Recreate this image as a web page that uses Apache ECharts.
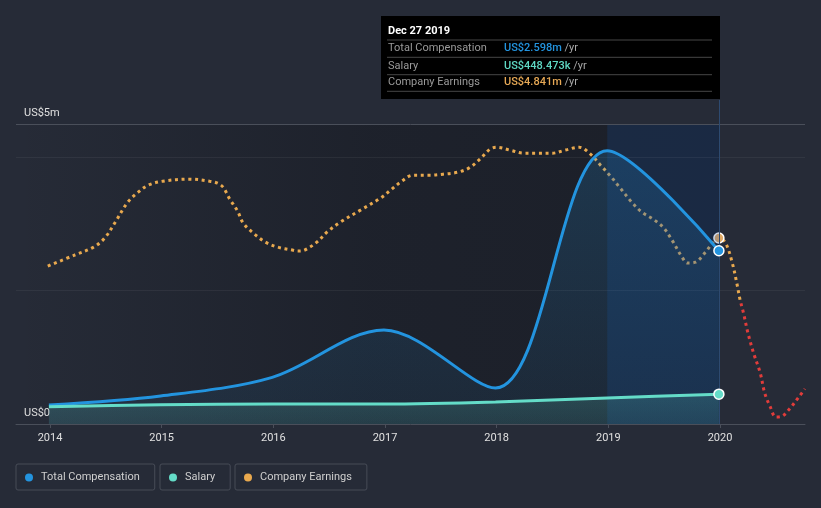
<!DOCTYPE html>
<html>
<head>
<meta charset="utf-8">
<script src="https://cdn.jsdelivr.net/npm/echarts@6/dist/echarts.min.js"></script>
<style>
html,body{margin:0;padding:0;background:#262b37;}
#c{width:821px;height:508px;}
</style>
</head>
<body>
<div id="c"></div>
<script>
// ---------- data ----------
const tickYears = [2014, 2015, 2016, 2017, 2018, 2019, 2020];
const yTickValues = [0, 4.5];
const yTickLabels = ['US$0', 'US$5m'];

const compDates = [2013.99, 2014.99, 2015.99, 2016.99, 2017.99, 2018.99, 2019.99];
const compValues = [0.285, 0.42, 0.70, 1.41, 0.54, 4.10, 2.598];
const salaryValues = [0.26, 0.29, 0.30, 0.30, 0.33, 0.39, 0.448];

const earnDates = [2013.98, 2014.22, 2014.39, 2014.49, 2014.59, 2014.69, 2014.78, 2014.88,
  2015.01, 2015.25, 2015.43, 2015.50, 2015.55, 2015.61, 2015.68, 2015.73, 2015.82, 2015.93,
  2016.04, 2016.17, 2016.22, 2016.28, 2016.39, 2016.48, 2016.60, 2016.78, 2016.96,
  2017.05, 2017.15, 2017.25, 2017.40, 2017.52, 2017.65, 2017.75, 2017.85, 2017.94,
  2018.00, 2018.12, 2018.24, 2018.36, 2018.50, 2018.61, 2018.74, 2018.84, 2018.93,
  2019.02, 2019.10, 2019.21, 2019.30, 2019.40, 2019.49, 2019.57, 2019.66, 2019.71, 2019.78, 2019.87, 2019.94, 2019.99,
  2020.05, 2020.11, 2020.15, 2020.18, 2020.21, 2020.25, 2020.30, 2020.36, 2020.40, 2020.45, 2020.50, 2020.56, 2020.63, 2020.70, 2020.76];
const earnValues = [2.65, 3.51, 4.13, 4.84, 6.16, 7.57, 8.35, 8.97,
  9.28, 9.44, 9.28, 9.13, 8.81, 7.88, 6.94, 6.01, 5.23, 4.52,
  4.13, 3.90, 3.82, 3.90, 4.52, 5.30, 6.08, 7.02, 7.96,
  8.58, 9.28, 9.75, 9.75, 9.83, 9.98, 10.30, 11.00, 11.78,
  11.93, 11.70, 11.47, 11.47, 11.47, 11.70, 11.93, 11.39, 10.53,
  9.67, 8.81, 7.64, 6.86, 6.32, 5.69, 4.68, 3.35, 2.89, 2.96, 3.74, 4.52, 4.841,
  4.45, 2.89, 1.33, 0.00, -1.01, -2.57, -4.13, -5.69, -7.25, -8.35, -9.13, -9.05, -8.42, -7.64, -6.94];

const tipTitle = 'Dec 27 2019';
const tipRows = [
  ['Total Compensation', 'US$2.598m', '#2394df'],
  ['Salary', 'US$448.473k', '#5fd8c4'],
  ['Company Earnings', 'US$4.841m', '#e6a855']
];

// ---------- layout constants ----------
const X_MIN = 2013.6955, X_MAX = 2020.761;
const COMP_MAX = 4.86;
const EARN_MIN = -9.68, EARN_MAX = 15.62;
const HIGHLIGHT_START = 2018.99, HIGHLIGHT_END = 2019.99;
const TOP_LINE = 4.5;

const C_BLUE = '#2394df', C_TEAL = '#64dcc8', C_ORANGE = '#e9a94e', C_RED = '#e23c3a';
const FONT = 'Roboto';

const lastIdx = compDates.length - 1;
function endMarker(x, y, color) {
  const m = { value: [x, y], symbol: 'circle', symbolSize: 10 };
  if (color) m.itemStyle = { color: color, borderColor: '#ffffff', borderWidth: 1.5 };
  return m;
}
const compData = compDates.map((d, i) => i === lastIdx ? endMarker(d, compValues[i]) : [d, compValues[i]]);
const salaryData = compDates.map((d, i) => i === lastIdx ? endMarker(d, salaryValues[i]) : [d, salaryValues[i]]);
const earnData = earnDates.map((d, i) => d === HIGHLIGHT_END ? endMarker(d, earnValues[i], '#e0aa66') : [d, earnValues[i]]);

// tooltip graphic
const tipChildren = [
  { type: 'rect', shape: { x: 0, y: 0, width: 339, height: 83 }, style: { fill: '#000' } },
  { type: 'text', x: 7, y: 15.5, style: { text: tipTitle, fill: '#fff', font: 'bold 11px ' + FONT, verticalAlign: 'middle' } }
];
[24, 41.3, 58.7, 75.3].forEach(y => tipChildren.push({
  type: 'line', shape: { x1: 6, y1: y, x2: 331, y2: y }, style: { stroke: '#464646', lineWidth: 1 }
}));
tipRows.forEach((r, i) => {
  const y = [32.5, 50, 66.5][i];
  tipChildren.push({ type: 'text', x: 7, y: y, style: { text: r[0], fill: '#9a9a9a', font: '11px ' + FONT, verticalAlign: 'middle' } });
  tipChildren.push({ type: 'text', x: 123, y: y, style: {
    text: '{v|' + r[1] + '} {u|/yr}', verticalAlign: 'middle', font: '11px ' + FONT,
    rich: { v: { fill: r[2], fontSize: 11, fontWeight: 500, fontFamily: FONT }, u: { fill: '#a8a8a8', fontSize: 11, fontFamily: FONT } }
  } });
});

function legendBox(name, left, color) {
  return {
    data: [{ name: name, itemStyle: { color: color, borderWidth: 0 } }],
    left: left, top: 464, orient: 'horizontal',
    icon: 'circle', itemWidth: 14, itemHeight: 8,
    padding: [8, 15, 7, 9],
    borderColor: '#474c57', borderWidth: 1, borderRadius: 2,
    selectedMode: false,
    textStyle: { color: '#cfcfcf', fontSize: 11, fontFamily: FONT }
  };
}

const chart = echarts.init(document.getElementById('c'), null, { renderer: 'canvas' });
chart.setOption({
  backgroundColor: '#262b37',
  animation: false,
  textStyle: { fontFamily: FONT },
  grid: { left: 16, right: 16, top: 100, bottom: 84, containLabel: false },
  xAxis: {
    type: 'value', min: X_MIN, max: X_MAX,
    splitLine: { show: false },
    axisLine: { show: true, lineStyle: { color: '#4a4f5a', width: 1 } },
    axisTick: { show: true, customValues: tickYears, length: 4, lineStyle: { color: '#4a4f5a' } },
    axisLabel: { show: true, customValues: tickYears, formatter: v => String(v), color: '#e0e0e0', fontSize: 11, margin: 9, fontFamily: FONT }
  },
  yAxis: [{
    type: 'value', min: 0, max: COMP_MAX,
    splitLine: { show: false }, axisLine: { show: false }, axisTick: { show: false },
    axisLabel: {
      show: true, customValues: yTickValues, inside: true, margin: 8,
      formatter: v => yTickLabels[yTickValues.indexOf(v)],
      color: '#e0e0e0', fontSize: 11, verticalAlign: 'bottom', padding: [0, 0, 5, 0], fontFamily: FONT
    }
  }, {
    type: 'value', min: EARN_MIN, max: EARN_MAX, show: false, splitLine: { show: false }
  }],
  visualMap: {
    type: 'piecewise', show: false, seriesIndex: 2, dimension: 1,
    pieces: [
      { lt: 0, color: C_RED },
      { gte: 0, lt: 100, color: C_ORANGE },
      { gte: 100, color: C_ORANGE }
    ]
  },
  legend: [
    legendBox('Total Compensation', 16, C_BLUE),
    legendBox('Salary', 160, C_TEAL),
    legendBox('Company Earnings', 235, C_ORANGE)
  ],
  series: [{
    name: 'Total Compensation', type: 'line', yAxisIndex: 0, z: 4,
    smooth: 0.33, symbol: 'none', showSymbol: true,
    data: compData,
    lineStyle: { color: C_BLUE, width: 3 },
    itemStyle: { color: C_BLUE, borderColor: '#ffffff', borderWidth: 1.5 },
    areaStyle: { color: { type: 'linear', x: 0, y: 0, x2: 0, y2: 1, colorStops: [
      { offset: 0, color: 'rgba(35,148,223,0.28)' }, { offset: 1, color: 'rgba(35,148,223,0.10)' }] } },
    markArea: {
      z: 3, silent: true, label: { show: false },
      itemStyle: { color: 'rgba(25,78,160,0.22)' },
      data: [[{ xAxis: HIGHLIGHT_START, yAxis: 0 }, { xAxis: HIGHLIGHT_END, yAxis: TOP_LINE }]]
    },
    markLine: {
      z: 3, silent: true, symbol: ['none', 'none'], label: { show: false },
      data: [
        { yAxis: 2, lineStyle: { color: 'rgba(255,255,255,0.055)', width: 1, type: 'solid' } },
        { yAxis: 4, lineStyle: { color: 'rgba(255,255,255,0.055)', width: 1, type: 'solid' } },
        { yAxis: TOP_LINE, lineStyle: { color: '#4a4f5a', width: 1, type: 'solid' } },
        { xAxis: HIGHLIGHT_END, lineStyle: { color: '#2d4a70', width: 1, type: 'solid' } }
      ]
    }
  }, {
    name: 'Salary', type: 'line', yAxisIndex: 0, z: 5,
    smooth: 0.3, symbol: 'none', showSymbol: true,
    data: salaryData,
    lineStyle: { color: C_TEAL, width: 3 },
    itemStyle: { color: C_TEAL, borderColor: '#ffffff', borderWidth: 1.5 },
    areaStyle: { color: { type: 'linear', x: 0, y: 0, x2: 0, y2: 1, colorStops: [
      { offset: 0, color: 'rgba(100,220,200,0.26)' }, { offset: 1, color: 'rgba(100,220,200,0.16)' }] } },
    markArea: {
      z: 1, silent: true, label: { show: false },
      itemStyle: { color: { type: 'linear', x: 0, y: 0, x2: 1, y2: 0, colorStops: [
        { offset: 0, color: 'rgba(12,14,20,0)' },
        { offset: 0.5, color: 'rgba(12,14,20,0.33)' },
        { offset: 1, color: 'rgba(12,14,20,0.40)' }] } },
      data: [[{ xAxis: X_MIN, yAxis: 0 }, { xAxis: HIGHLIGHT_END, yAxis: TOP_LINE }]]
    }
  }, {
    name: 'Company Earnings', type: 'line', yAxisIndex: 1, z: 2,
    smooth: 0.35, symbol: 'none', showSymbol: true,
    data: earnData,
    lineStyle: { width: 3, type: [3, 3.7] }
  }],
  graphic: [{ type: 'group', left: 381, top: 16, children: tipChildren }]
});
</script>
</body>
</html>
